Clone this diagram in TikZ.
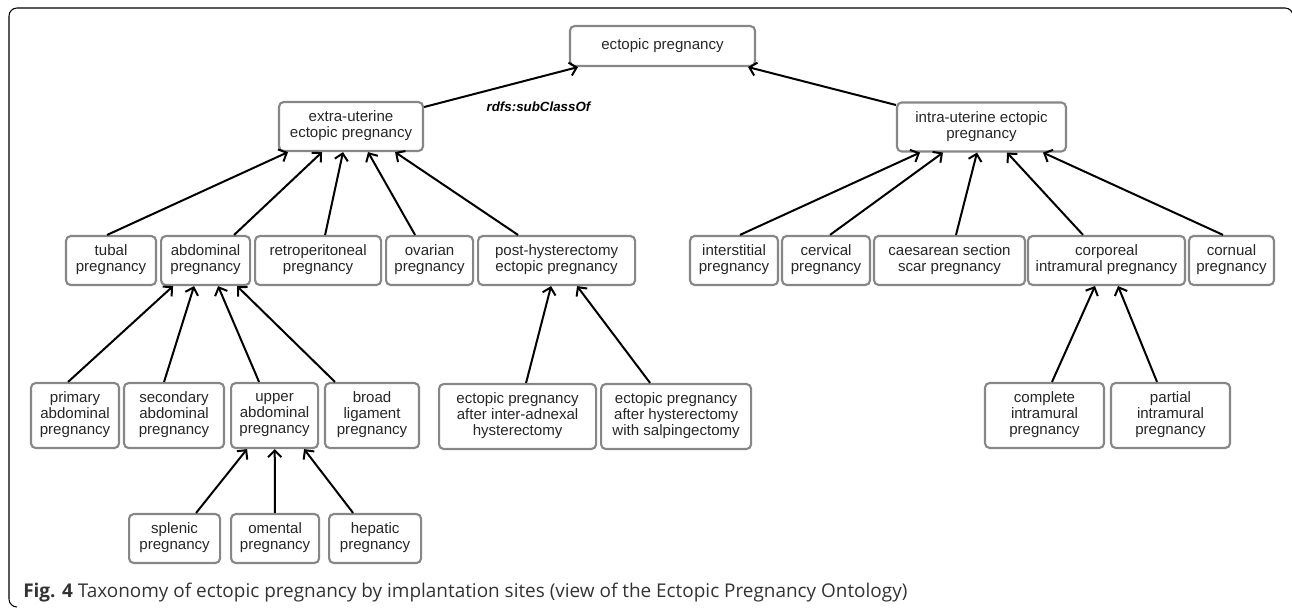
\documentclass[tikz,border=0pt]{standalone}
\usepackage{fontspec}
\setmainfont{Liberation Sans}
\newfontfamily\capfont{Open Sans}
\usetikzlibrary{positioning,calc,arrows.meta}
\definecolor{boxgray}{RGB}{135,135,135}

\begin{document}
\begin{tikzpicture}[x=0.75pt,y=0.75pt,on grid,
    cls/.style={draw=boxgray,line width=1.6pt,rounded corners=3.5pt,align=center,
      font=\fontsize{11.3}{12}\selectfont,text=black!85,inner sep=1pt,minimum height=36.75pt,
      execute at begin node=\strut,execute at end node=\strut},
    three/.style={minimum height=48.75pt},
    sub/.style={-{Straight Barb[length=5pt,width=10pt]},line width=1.5pt},
    lbl/.style={font=\fontsize{10}{12}\selectfont\bfseries\itshape,inner sep=0pt}]
    \useasboundingbox (0,0) rectangle (1292,-609);
    \draw[line width=0.8pt,rounded corners=6pt] (17,-607) -- (9,-607) -- (9,-8) -- (1293,-8) -- (1293,-16);
    \node[cls,minimum width=138.75pt,minimum height=30pt] (root) at (662.5,-46) {ectopic pregnancy};
    \node[cls,minimum width=108pt] (extra) [below left=60.4pt and 233.6pt of root] {extra-uterine\\ectopic pregnancy};
    \node[cls,minimum width=126.75pt] (intra) [below right=60.75pt and 239.25pt of root] {intra-uterine ectopic\\pregnancy};
    % extra-uterine sites
    \node[cls,minimum width=67.5pt] (tubal) [below left=100.5pt and 180pt of extra] {tubal\\pregnancy};
    \node[cls,minimum width=66.75pt] (abdominal) [right=70.9pt of tubal] {abdominal\\pregnancy};
    \node[cls,minimum width=94.5pt] (retro) [right=84.4pt of abdominal] {retroperitoneal\\pregnancy};
    \node[cls,minimum width=65.25pt] (ovarian) [right=83.6pt of retro] {ovarian\\pregnancy};
    \node[cls,minimum width=117.75pt] (posthyst) [right=95.25pt of ovarian] {post-hysterectomy\\ectopic pregnancy};
    % intra-uterine sites
    \node[cls,minimum width=66pt] (interstitial) [below left=100.1pt and 185.6pt of intra] {interstitial\\pregnancy};
    \node[cls,minimum width=66pt] (cervical) [right=69pt of interstitial] {cervical\\pregnancy};
    \node[cls,minimum width=113.25pt] (caesarean) [right=92.6pt of cervical] {caesarean section\\scar pregnancy};
    \node[cls,minimum width=117.75pt] (corporeal) [right=117.75pt of caesarean] {corporeal\\intramural pregnancy};
    \node[cls,minimum width=63.75pt] (cornual) [right=93.75pt of corporeal] {cornual\\pregnancy};
    % abdominal
    \node[cls,three,minimum width=66pt] (primary) [below left=116.25pt and 97.9pt of abdominal] {primary\\abdominal\\pregnancy};
    \node[cls,three,minimum width=75pt] (secondary) [right=74.25pt of primary] {secondary\\abdominal\\pregnancy};
    \node[cls,three,minimum width=65.25pt] (upper) [right=75.4pt of secondary] {upper\\abdominal\\pregnancy};
    \node[cls,three,minimum width=70.5pt] (broad) [right=73.1pt of upper] {broad\\ligament\\pregnancy};
    % post-hysterectomy
    \node[cls,three,minimum width=117.75pt] (adnexal) [below left=117pt and 29.25pt of posthyst] {ectopic pregnancy\\after inter-adnexal\\hysterectomy};
    \node[cls,three,minimum width=112.5pt] (salping) [right=118.9pt of adnexal] {ectopic pregnancy\\after hysterectomy\\with salpingectomy};
    % corporeal
    \node[cls,three,minimum width=89.25pt] (complete) [below left=116.25pt and 46.5pt of corporeal] {complete\\intramural\\pregnancy};
    \node[cls,three,minimum width=89.25pt] (partial) [right=94.5pt of complete] {partial\\intramural\\pregnancy};
    % upper abdominal
    \node[cls,minimum width=68.25pt] (splenic) [below left=92.25pt and 75pt of upper] {splenic\\pregnancy};
    \node[cls,minimum width=66pt] (omental) [right=75.4pt of splenic] {omental\\pregnancy};
    \node[cls,minimum width=69pt] (hepatic) [right=75pt of omental] {hepatic\\pregnancy};
    \path[sub]
        ($(extra.east)+(0,19.5)$) edge node[lbl,pos=0.4,anchor=north west,yshift=-7pt] (rdfs) {rdfs:subClassOf} ($(root.south)+(-84.5,0)$)
        ($(intra.west)+(0,22)$) edge ($(root.south)+(85.5,0)$)
        ($(tubal.north)+(-4,0)$) edge ($(extra.south)+(-63,0)$)
        ($(abdominal.north)+(28.5,0)$) edge ($(extra.south)+(-29,0)$)
        ($(retro.north)+(7,0)$) edge ($(extra.south)+(-8,0)$)
        ($(ovarian.north)+(-14.5,0)$) edge ($(extra.south)+(17,0)$)
        ($(posthyst.north)+(-38.5,0)$) edge ($(extra.south)+(44,0)$)
        ($(interstitial.north)+(6,0)$) edge ($(intra.south)+(-61.5,0)$)
        ($(cervical.north)+(4,0)$) edge ($(intra.south)+(-38.5,0)$)
        ($(caesarean.north)+(6.5,0)$) edge ($(intra.south)+(-4.5,0)$)
        ($(corporeal.north)+(-23.5,0)$) edge ($(intra.south)+(25.5,0)$)
        ($(cornual.north)+(-8.5,0)$) edge ($(intra.south)+(61.5,0)$)
        ($(primary.north)+(-7,0)$) edge ($(abdominal.south)+(-32.5,0)$)
        ($(secondary.north)+(-10,0)$) edge ($(abdominal.south)+(-11.5,0)$)
        ($(upper.north)+(-15.5,0)$) edge ($(abdominal.south)+(12.5,0)$)
        ($(broad.north)+(-37,0)$) edge ($(abdominal.south)+(31.5,0)$)
        ($(adnexal.north)+(8.5,0)$) edge ($(posthyst.south)+(-5.5,0)$)
        ($(salping.north)+(-26,0)$) edge ($(posthyst.south)+(20.5,0)$)
        ($(complete.north)+(7.5,0)$) edge ($(corporeal.south)+(-11.5,0)$)
        ($(partial.north)+(-13.5,0)$) edge ($(corporeal.south)+(11.5,0)$)
        ($(splenic.north)+(21.5,0)$) edge ($(upper.south)+(-27.5,0)$)
        (omental) edge (upper)
        ($(hepatic.north)+(-22,0)$) edge ($(upper.south)+(29.5,0)$);
    \node[anchor=base west,inner sep=0pt,font=\capfont\fontsize{14.2}{16}\selectfont,text=black!80] (caption) at (23,-597)
        {\textbf{Fig. 4} Taxonomy of ectopic pregnancy by implantation sites (view of the Ectopic Pregnancy Ontology)};
\end{tikzpicture}
\end{document}
